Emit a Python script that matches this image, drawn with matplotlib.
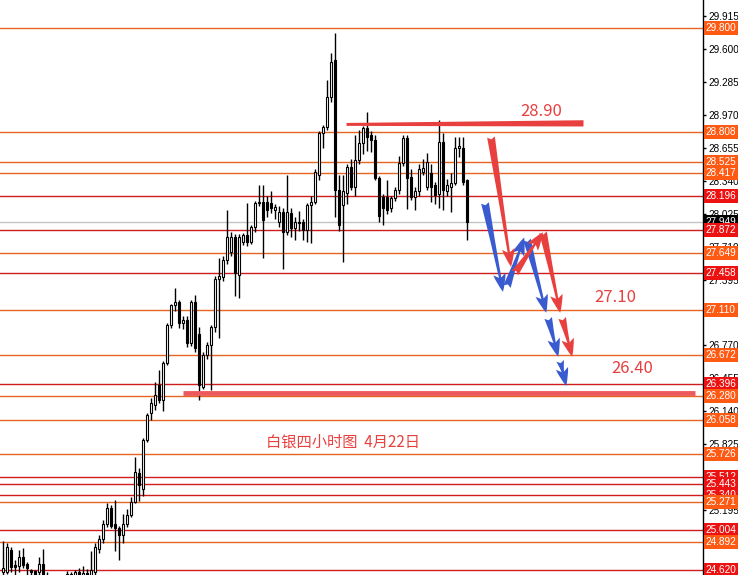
import matplotlib
matplotlib.use('Agg')
import matplotlib.pyplot as plt
import matplotlib.transforms as mtransforms

# silver 4h candles (O, H, L, C)
opens = [24.60, 24.60, 24.81, 24.67, 24.66, 24.74, 24.68, 24.62, 24.61, 24.60,
         24.68, 24.57, 24.55, 24.50, 24.47, 24.51, 24.54, 24.58, 24.56, 24.60,
         24.57, 24.59, 24.57, 24.60, 24.82, 24.92, 25.06, 25.21, 25.06, 25.02,
         24.95, 25.06, 25.15, 25.27, 25.55, 25.39, 25.86, 26.12, 26.20, 26.39,
         26.25, 26.60, 26.96, 27.15, 27.18, 26.98, 27.01, 26.79, 27.18, 26.88,
         26.37, 26.68, 26.77, 26.94, 27.40, 27.42, 27.58, 27.66, 27.80, 27.44,
         27.76, 27.82, 27.76, 27.90, 28.13, 28.14, 28.14, 28.13, 28.06, 27.95,
         28.04, 27.85, 28.03, 27.89, 27.95, 27.95, 27.87, 28.11, 28.14, 28.40,
         28.80, 28.86, 29.14, 29.50, 28.25, 28.11, 28.23, 28.47, 28.28, 28.54,
         28.70, 28.85, 28.78, 28.73, 28.37, 28.19, 28.19, 28.08, 28.18, 28.25,
         28.51, 28.75, 28.38, 28.19, 28.24, 28.43, 28.28, 28.42, 28.30, 28.22,
         28.71, 28.24, 28.28, 28.32, 28.66, 28.66, 28.35]
highs = [24.90, 24.88, 24.84, 24.72, 24.81, 24.83, 24.70, 24.63, 24.62, 24.74,
         24.82, 24.60, 24.56, 24.54, 24.53, 24.56, 24.61, 24.60, 24.62, 24.64,
         24.66, 24.63, 24.80, 24.88, 24.95, 25.10, 25.26, 25.24, 25.29, 25.04,
         25.16, 25.20, 25.32, 25.70, 25.60, 25.88, 26.12, 26.26, 26.42, 26.53,
         26.62, 26.98, 27.16, 27.32, 27.20, 27.05, 27.05, 27.20, 27.25, 26.94,
         26.70, 26.80, 26.96, 27.43, 27.60, 27.62, 28.06, 27.85, 27.83, 27.83,
         27.84, 28.13, 27.92, 28.15, 28.30, 28.30, 28.20, 28.24, 28.12, 28.10,
         28.08, 28.40, 28.08, 28.00, 28.05, 27.98, 28.13, 28.20, 28.45, 28.82,
         28.88, 29.31, 29.56, 29.76, 28.40, 28.40, 28.50, 28.55, 28.78, 28.83,
         28.87, 29.00, 28.82, 28.78, 28.39, 28.22, 28.35, 28.20, 28.28, 28.58,
         28.78, 28.78, 28.45, 28.28, 28.50, 28.55, 28.61, 28.50, 28.33, 28.92,
         28.80, 28.36, 28.42, 28.76, 28.76, 28.76, 28.36]
lows = [24.57, 24.58, 24.60, 24.55, 24.60, 24.64, 24.56, 24.55, 24.54, 24.56,
        24.52, 24.50, 24.45, 24.42, 24.40, 24.45, 24.50, 24.52, 24.53, 24.52,
        24.50, 24.54, 24.55, 24.55, 24.78, 24.88, 25.03, 25.02, 24.80, 24.72,
        24.88, 25.03, 25.13, 25.26, 25.28, 25.33, 25.84, 26.05, 26.15, 26.22,
        26.14, 26.58, 26.93, 27.10, 26.93, 26.92, 26.75, 26.76, 26.70, 26.25,
        26.35, 26.64, 26.34, 26.90, 26.84, 27.38, 27.55, 27.62, 27.24, 27.22,
        27.73, 27.72, 27.74, 27.85, 28.10, 27.60, 28.00, 28.03, 27.98, 27.90,
        27.50, 27.82, 27.80, 27.78, 27.86, 27.78, 27.76, 27.75, 28.12, 28.35,
        28.66, 28.83, 29.10, 28.00, 27.86, 27.57, 28.12, 28.25, 28.20, 28.50,
        28.60, 28.63, 28.62, 28.35, 27.95, 27.92, 28.02, 28.04, 28.15, 28.22,
        28.48, 28.07, 28.16, 28.06, 28.20, 28.40, 28.25, 28.14, 28.12, 28.08,
        28.06, 28.20, 28.04, 28.30, 28.57, 28.30, 27.78]
closes = [24.64, 24.84, 24.65, 24.65, 24.74, 24.67, 24.64, 24.60, 24.57, 24.68,
          24.56, 24.55, 24.50, 24.47, 24.51, 24.54, 24.58, 24.56, 24.60, 24.57,
          24.59, 24.57, 24.62, 24.84, 24.92, 25.06, 25.21, 25.04, 25.02, 24.95,
          25.06, 25.15, 25.27, 25.56, 25.43, 25.86, 26.10, 26.22, 26.29, 26.25,
          26.60, 26.96, 27.15, 27.18, 26.98, 27.01, 26.79, 27.18, 26.74, 26.39,
          26.68, 26.77, 26.94, 27.40, 27.43, 27.58, 27.80, 27.80, 27.46, 27.80,
          27.82, 27.76, 27.90, 28.13, 28.14, 27.97, 28.06, 28.08, 28.09, 28.04,
          27.85, 28.04, 27.89, 27.95, 27.94, 27.87, 28.11, 28.14, 28.43, 28.80,
          28.86, 29.14, 29.48, 28.25, 27.92, 28.24, 28.47, 28.28, 28.54, 28.70,
          28.85, 28.76, 28.73, 28.37, 28.01, 28.08, 28.06, 28.18, 28.25, 28.51,
          28.75, 28.37, 28.19, 28.24, 28.45, 28.46, 28.52, 28.28, 28.21, 28.71,
          28.25, 28.30, 28.32, 28.66, 28.67, 28.33, 27.95]

# horizontal levels and their kind (o = orange, r = red)
levels = [29.800, 28.808, 28.525, 28.417, 28.196, 27.872, 27.649, 27.458, 27.110, 26.672,
          26.396, 26.280, 26.058, 25.726, 25.512, 25.443, 25.340, 25.271, 25.004, 24.892, 24.620]
level_kind = ['o', 'o', 'o', 'o', 'r', 'r', 'o', 'r', 'o', 'o',
              'r', 'o', 'o', 'o', 'r', 'r', 'r', 'o', 'r', 'o', 'r']
last_price = 27.949

tick_values = [29.915, 29.600, 29.285, 28.970, 28.655, 28.340, 28.025, 27.710, 27.395, 27.080,
               26.770, 26.455, 26.140, 25.825, 25.510, 25.195, 24.880]

# hand drawn resistance stroke at 28.90 (bar, lower edge, upper edge) and support line
res_x = [85.75, 145.0]
res_lo = [28.872, 28.866]
res_hi = [28.900, 28.926]
sup_x = [45, 173]
sup_y = [26.312, 26.312]

# annotation arrows: (start bar, start price, end bar, end price)
red_arrows = [(122.0, 28.76, 127.0, 27.52), (128.0, 27.46, 135.0, 27.85),
              (135.0, 27.85, 139.3, 27.08), (139.8, 27.03, 142.3, 26.66)]
blue_arrows = [(120.5, 28.13, 125.0, 27.28), (126.0, 27.33, 130.3, 27.80),
               (131.0, 27.78, 135.8, 27.08), (136.3, 27.03, 138.8, 26.66),
               (139.3, 26.62, 140.8, 26.38)]

ORANGE_LINE = '#E6651F'
RED_LINE = '#D01C1C'
ORANGE_BOX = '#FF5A14'
RED_BOX = '#EC1212'
MARK_RED = '#E8403F'
MARK_BLUE = '#3A5BD0'
AXIS_FONT = 'Liberation Sans'


def main():
    plt.rcParams['font.family'] = ['Noto Sans CJK SC', 'DejaVu Sans']
    fig = plt.figure(figsize=(7.38, 5.75), dpi=100)
    ax = fig.add_axes([0, 0, 703 / 738, 1])

    n = len(opens)
    xs = list(range(n))
    ax.vlines(xs, lows, highs, color='black', linewidth=1, zorder=3)
    for i in xs:
        up = closes[i] >= opens[i]
        bottom = min(opens[i], closes[i])
        h = max(abs(closes[i] - opens[i]), 0.008)
        ax.bar(i, h, bottom=bottom, width=0.7, facecolor='white' if up else 'black',
               edgecolor='black', linewidth=0.8, zorder=4)

    ax.set_xlim(-0.75, 175)
    ax.set_ylim(24.572, 30.071)

    blend = mtransforms.blended_transform_factory(ax.transAxes, ax.transData)
    ax.axhline(last_price, color='#C4C4C4', linewidth=1, zorder=1)
    ax.text(1.004, last_price, '%.3f' % last_price, transform=blend, ha='left', va='center',
            color='white', fontsize=7.2, family=AXIS_FONT,
            bbox=dict(boxstyle='square,pad=0.2', fc='black', ec='none'), clip_on=False, zorder=9)

    for lv, k in zip(levels, level_kind):
        ax.axhline(lv, color=ORANGE_LINE if k == 'o' else RED_LINE, linewidth=1, zorder=2)
        ax.text(1.004, lv, '%.3f' % lv, transform=blend, ha='left', va='center',
                color='white', fontsize=7.2, family=AXIS_FONT,
                bbox=dict(boxstyle='square,pad=0.2', fc=ORANGE_BOX if k == 'o' else RED_BOX, ec='none'),
                clip_on=False, zorder=10)

    # hand drawn marks
    ax.fill_between(res_x, res_lo, res_hi, color=MARK_RED, linewidth=0, zorder=6)
    ax.plot(sup_x, sup_y, color='#EC5A5E', linewidth=3.5, solid_capstyle='butt', zorder=6)
    for arrows, col in ((blue_arrows, MARK_BLUE), (red_arrows, MARK_RED)):
        for x0, y0, x1, y1 in arrows:
            ax.annotate('', xy=(x1, y1), xytext=(x0, y0),
                        arrowprops=dict(arrowstyle='fancy,head_length=0.65,head_width=0.45,tail_width=0.28',
                                        fc=col, ec='none', shrinkA=0, shrinkB=0, mutation_scale=20),
                        zorder=7)

    ax.text(134.5, 29.00, '28.90', color=MARK_RED, fontsize=12, ha='center', va='center')
    ax.text(153, 27.23, '27.10', color=MARK_RED, fontsize=12, ha='center', va='center')
    ax.text(157.25, 26.55, '26.40', color=MARK_RED, fontsize=12, ha='center', va='center')
    ax.text(85, 25.844, '白银四小时图  4月22日', color=MARK_RED, fontsize=11, ha='center', va='center')

    for side in ('top', 'left', 'bottom'):
        ax.spines[side].set_visible(False)
    ax.spines['right'].set_color('black')
    ax.spines['right'].set_linewidth(1)
    ax.set_xticks([])
    ax.yaxis.tick_right()
    ax.set_yticks(tick_values)
    ax.set_yticklabels(['%.3f' % t for t in tick_values], family=AXIS_FONT)
    ax.tick_params(axis='y', direction='out', length=2.5, width=1, pad=1.5, labelsize=7.2, colors='black')

    fig.savefig('out.png', dpi=100)


if __name__ == "__main__":
    main()
